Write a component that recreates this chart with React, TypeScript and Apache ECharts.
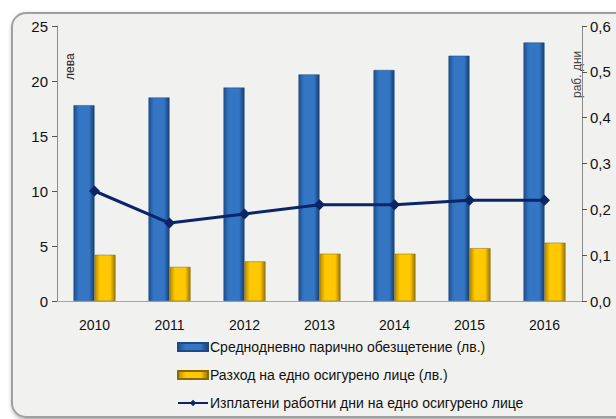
import React, { useEffect, useRef } from "react";
import * as echarts from "echarts";

const years = ["2010", "2011", "2012", "2013", "2014", "2015", "2016"];
const dailyComp = [17.8, 18.5, 19.4, 20.6, 21.0, 22.3, 23.5];
const costPerPerson = [4.2, 3.1, 3.6, 4.3, 4.3, 4.8, 5.3];
const paidDays = [0.24, 0.17, 0.19, 0.21, 0.21, 0.22, 0.22];

const leftTicks = { min: 0, max: 25, interval: 5 };
const rightTicks = { min: 0, max: 0.6, interval: 0.1 };

const seriesNames = [
  "Среднодневно парично обезщетение (лв.)",
  "Разход на едно осигурено лице (лв.)",
  "Изплатени работни дни на едно осигурено лице",
];

const FONT = "'Liberation Sans', Arial, sans-serif";

export default function App() {
  const ref = useRef<HTMLDivElement>(null);
  useEffect(() => {
    if (!ref.current) return;
    const chart = echarts.init(ref.current, undefined, { renderer: "svg" });
    const blueGrad = new echarts.graphic.LinearGradient(0, 0, 1, 0, [
      { offset: 0, color: "#1d4f8f" },
      { offset: 0.25, color: "#3476c4" },
      { offset: 0.75, color: "#3476c4" },
      { offset: 1, color: "#173f73" },
    ]);
    const yellowGrad = new echarts.graphic.LinearGradient(0, 0, 1, 0, [
      { offset: 0, color: "#b58a00" },
      { offset: 0.25, color: "#ffc800" },
      { offset: 0.75, color: "#ffc800" },
      { offset: 1, color: "#9a7400" },
    ]);
    chart.setOption({
      animation: false,
      backgroundColor: "#ffffff",
      textStyle: { fontFamily: FONT },
      graphic: [
        {
          type: "rect",
          z: -10,
          shape: { x: 12, y: 13, width: 640, height: 404, r: 14 },
          style: {
            fill: "#f1f1ef",
            stroke: "#a0a0a0",
            lineWidth: 2,
            shadowBlur: 4,
            shadowColor: "rgba(0,0,0,0.35)",
            shadowOffsetX: 1,
            shadowOffsetY: 2,
          },
        },
        {
          type: "text",
          x: 64,
          y: 80,
          rotation: Math.PI / 2,
          style: { text: "лева", fontSize: 12, fontFamily: FONT, fill: "#222" },
        },
        {
          type: "text",
          x: 571,
          y: 98,
          rotation: Math.PI / 2,
          style: { text: "раб. дни", fontSize: 12, fontFamily: FONT, fill: "#444" },
        },
      ],
      grid: { left: 57, right: 34, top: 26, bottom: 118 },
      legend: {
        orient: "vertical",
        left: 172,
        top: 335,
        itemWidth: 30,
        itemHeight: 8,
        itemGap: 14,
        textStyle: { fontSize: 14, fontFamily: FONT, color: "#111", padding: [0, 0, 0, -3] },
        data: [
          { name: seriesNames[0], icon: "rect" },
          { name: seriesNames[1], icon: "rect" },
          { name: seriesNames[2] },
        ],
      },
      xAxis: {
        type: "category",
        data: years,
        axisLine: { lineStyle: { color: "#a6a6a6", width: 1 } },
        axisTick: { show: false },
        axisLabel: { fontSize: 14, color: "#111", margin: 17, fontFamily: FONT },
      },
      yAxis: [
        {
          type: "value",
          ...leftTicks,
          position: "left",
          splitLine: { show: false },
          axisLine: { show: true, lineStyle: { color: "#8a8a8a" } },
          axisTick: { show: true, length: 5, lineStyle: { color: "#555" } },
          axisLabel: { fontSize: 15, color: "#111", margin: 9, fontFamily: FONT },
        },
        {
          type: "value",
          ...rightTicks,
          position: "right",
          splitLine: { show: false },
          axisLine: { show: true, lineStyle: { color: "#8a8a8a" } },
          axisTick: { show: true, length: 5, lineStyle: { color: "#555" } },
          axisLabel: {
            fontSize: 15,
            color: "#111",
            margin: 8,
            fontFamily: FONT,
            formatter: (v: number) => v.toFixed(1).replace(".", ","),
          },
        },
      ],
      series: [
        {
          name: seriesNames[0],
          type: "bar",
          data: dailyComp,
          barWidth: 21,
          barGap: "0%",
          itemStyle: { color: blueGrad, borderColor: "#1b4a85", borderWidth: 0.5 },
        },
        {
          name: seriesNames[1],
          type: "bar",
          data: costPerPerson,
          barWidth: 21,
          barGap: "0%",
          itemStyle: { color: yellowGrad, borderColor: "#8a6a00", borderWidth: 0.5 },
        },
        {
          name: seriesNames[2],
          type: "line",
          yAxisIndex: 1,
          data: paidDays,
          symbol: "diamond",
          symbolSize: 11,
          lineStyle: { color: "#0b2566", width: 3 },
          itemStyle: { color: "#0b2566" },
          z: 5,
        },
      ],
    });
    return () => chart.dispose();
  }, []);
  return (
    <div
      ref={ref}
      style={{ position: "fixed", left: 0, top: 0, width: 616, height: 419 }}
    />
  );
}
